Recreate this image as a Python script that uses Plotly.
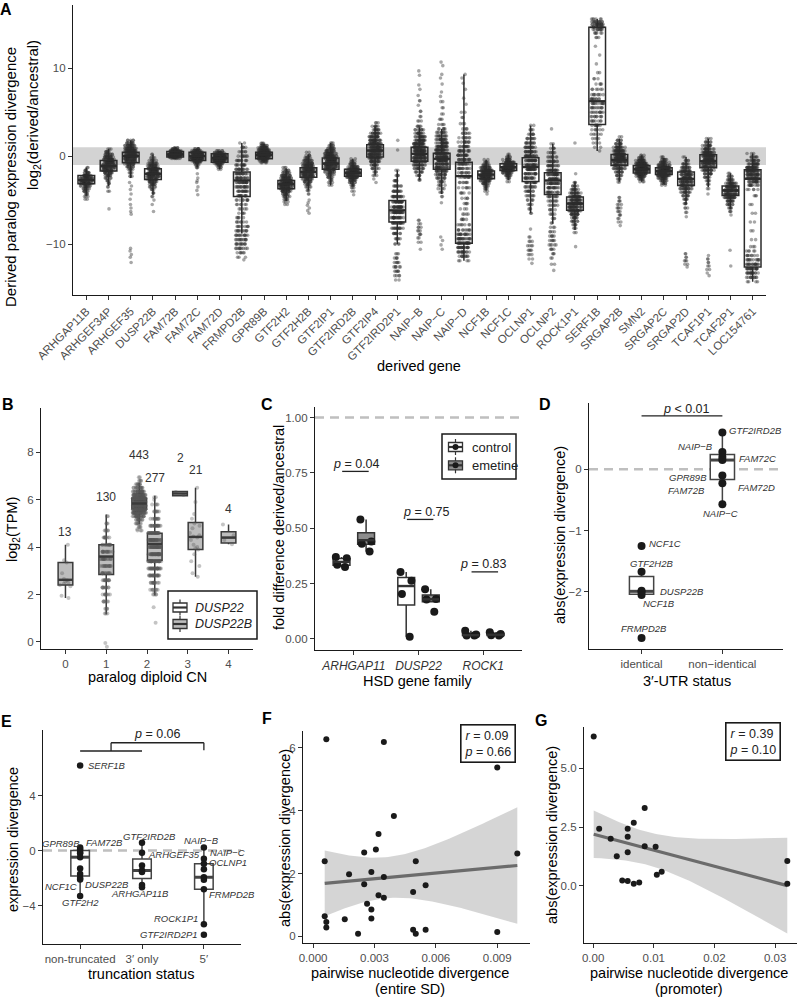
import numpy as np
import plotly.graph_objects as go

W, H = 797, 999
FONT = "Liberation Sans, Arial, Helvetica, sans-serif"
TICK_COLOR = "#4d4d4d"

# ======================= DATA =======================
# ---- Panel A: derived paralog expression divergence ----
a_genes = ["ARHGAP11B", "ARHGEF34P", "ARHGEF35", "DUSP22B", "FAM72B", "FAM72C", "FAM72D",
           "FRMPD2B", "GPR89B", "GTF2H2", "GTF2H2B", "GTF2IP1", "GTF2IRD2B", "GTF2IP4",
           "GTF2IRD2P1", "NAIP−B", "NAIP−C", "NAIP−D", "NCF1B", "NCF1C", "OCLNP1", "OCLNP2",
           "ROCK1P1", "SERF1B", "SRGAP2B", "SMN2", "SRGAP2C", "SRGAP2D", "TCAF1P1", "TCAF2P1",
           "LOC154761"]
a_lo = [-4.5, -3.4, -2.5, -4.4, -0.3, -1.3, -1.5, -8.8, -0.75, -5.1, -3.9, -3.3, -3.4, -2.2,
        -10.0, -2.7, -4.3, -11.9, -3.9, -2.7, -6.5, -7.7, -8.4, 0.6, -2.9, -2.9, -3.2, -5.5,
        -3.5, -6.0, -14.3]
a_q1 = [-3.14, -1.7, -0.76, -2.65, -0.1, -0.5, -0.68, -4.6, -0.3, -3.7, -2.4, -1.5, -2.3, -0.1,
        -7.5, -0.57, -1.5, -9.9, -2.58, -1.63, -2.88, -4.36, -6.17, 3.6, -1.06, -1.93, -2.08,
        -3.33, -1.33, -4.47, -12.6]
a_med = [-2.7, -1.14, 0.0, -2.0, 0.2, 0.0, -0.23, -2.76, 0.15, -3.2, -1.8, -0.83, -1.9, 0.64,
         -6.17, 0.27, -0.3, -2.27, -2.1, -1.25, -1.25, -2.77, -5.4, 6.25, -0.42, -1.5, -1.7,
         -2.58, -0.57, -3.9, -2.58]
a_q3 = [-2.2, -0.5, 0.45, -1.44, 0.53, 0.45, 0.27, -1.8, 0.45, -2.77, -1.33, -0.2, -1.5, 1.3,
        -5.04, 1.0, 0.34, -0.68, -1.7, -0.87, -0.19, -1.9, -4.66, 14.66, 0.19, -1.06, -1.33,
        -1.8, 0.15, -3.4, -1.55]
a_hi = [-1.3, 0.8, 1.8, 0.2, 1.0, 0.85, 0.6, 1.5, 1.45, -1.4, 0.2, 1.5, -0.3, 3.4, -1.6, 3.3,
        3.1, 9.3, -0.4, 0.2, 3.5, 1.4, -2.95, 15.6, 2.0, 0.1, -0.2, -0.1, 2.0, -1.95, 0.3]
# per-gene observations as (value, number of samples at that value)
a_points = [
    [(-1.3, 2), (-1.6, 4), (-1.9, 8), (-2.2, 16), (-2.5, 24), (-2.8, 28), (-3.1, 22), (-3.4, 14),
     (-3.7, 9), (-4.0, 6), (-4.3, 4), (-4.6, 3), (-4.9, 2)],
    [(0.8, 3), (0.5, 6), (0.2, 10), (-0.1, 16), (-0.4, 22), (-0.7, 26), (-1.0, 28), (-1.3, 26),
     (-1.6, 20), (-1.9, 14), (-2.2, 9), (-2.5, 6), (-2.8, 4), (-3.1, 3), (-3.5, 2), (-4.0, 2), (-6.0, 1)],
    [(1.8, 5), (1.5, 10), (1.2, 16), (0.9, 22), (0.6, 28), (0.3, 30), (0.0, 30), (-0.3, 26),
     (-0.6, 20), (-0.9, 14), (-1.2, 9), (-1.5, 6), (-1.9, 4), (-2.3, 3), (-3.0, 1), (-3.4, 1),
     (-3.8, 1), (-4.3, 1), (-4.9, 1), (-5.5, 1), (-5.9, 1), (-6.3, 1), (-6.6, 1), (-10.5, 1),
     (-10.8, 1), (-11.2, 1), (-11.5, 1), (-12.1, 1)],
    [(0.2, 2), (-0.2, 4), (-0.5, 7), (-0.8, 12), (-1.1, 18), (-1.4, 24), (-1.7, 28), (-2.0, 28),
     (-2.3, 24), (-2.6, 18), (-2.9, 13), (-3.2, 9), (-3.5, 6), (-3.8, 4), (-4.2, 3), (-4.6, 2),
     (-5.0, 1), (-5.5, 1), (-6.3, 1)],
    [(0.95, 4), (0.8, 10), (0.65, 20), (0.5, 32), (0.35, 40), (0.2, 42), (0.05, 34), (-0.1, 22), (-0.25, 8)],
    [(0.85, 6), (0.65, 14), (0.45, 26), (0.25, 36), (0.05, 40), (-0.15, 36), (-0.35, 28),
     (-0.55, 18), (-0.75, 10), (-1.0, 5), (-1.3, 3), (-2.0, 1), (-2.5, 1), (-2.8, 1), (-3.0, 1),
     (-3.5, 1), (-3.9, 1), (-4.4, 1)],
    [(0.6, 6), (0.4, 14), (0.2, 26), (0.0, 36), (-0.2, 40), (-0.4, 36), (-0.6, 26), (-0.8, 16),
     (-1.0, 8), (-1.25, 4), (-1.5, 2)],
    [(1.5, 2), (1.0, 4), (0.5, 6), (0.0, 8), (-0.5, 10), (-1.0, 12), (-1.5, 14), (-2.0, 16),
     (-2.5, 17), (-3.0, 17), (-3.5, 16), (-4.0, 14), (-4.5, 12), (-5.0, 9), (-5.5, 6), (-6.0, 5),
     (-6.5, 4), (-7.0, 5), (-7.5, 7), (-8.0, 9), (-8.5, 11), (-9.0, 12), (-9.5, 12), (-10.0, 12),
     (-10.5, 10), (-11.0, 6), (-11.5, 3), (-11.8, 1)],
    [(1.45, 4), (1.2, 10), (0.95, 18), (0.7, 28), (0.45, 38), (0.2, 42), (-0.05, 36), (-0.3, 24),
     (-0.55, 12), (-0.75, 4)],
    [(-1.3, 3), (-1.6, 6), (-1.9, 10), (-2.2, 16), (-2.5, 24), (-2.8, 30), (-3.1, 32), (-3.4, 28),
     (-3.7, 22), (-4.0, 16), (-4.3, 11), (-4.6, 7), (-4.9, 5), (-5.2, 3), (-5.5, 2)],
    [(0.45, 2), (0.1, 4), (-0.2, 8), (-0.5, 13), (-0.8, 18), (-1.1, 24), (-1.4, 28), (-1.7, 30),
     (-2.0, 28), (-2.3, 22), (-2.6, 16), (-2.9, 11), (-3.2, 7), (-3.5, 5), (-3.9, 3), (-4.3, 2),
     (-5.0, 1), (-5.3, 1), (-5.6, 1), (-5.9, 1), (-6.2, 1), (-6.5, 1)],
    [(1.5, 3), (1.2, 6), (0.9, 10), (0.6, 16), (0.3, 22), (0.0, 26), (-0.3, 30), (-0.6, 30),
     (-0.9, 30), (-1.2, 26), (-1.5, 20), (-1.8, 14), (-2.1, 9), (-2.4, 6), (-2.7, 4), (-3.0, 3), (-3.3, 2)],
    [(-0.3, 2), (-0.6, 5), (-0.9, 10), (-1.2, 18), (-1.5, 28), (-1.8, 34), (-2.1, 32), (-2.4, 24),
     (-2.7, 14), (-3.0, 8), (-3.3, 5), (-3.6, 3), (-4.0, 2), (-4.4, 1)],
    [(3.8, 3), (3.4, 6), (3.0, 10), (2.6, 15), (2.2, 20), (1.8, 25), (1.4, 29), (1.0, 32), (0.6, 32),
     (0.2, 29), (-0.2, 24), (-0.6, 17), (-1.0, 11), (-1.4, 7), (-1.8, 4), (-2.2, 3), (-2.6, 1), (-3.0, 1)],
    [(1.8, 1), (0.7, 1), (-1.6, 2), (-2.2, 4), (-2.8, 6), (-3.4, 9), (-4.0, 13), (-4.6, 18),
     (-5.2, 22), (-5.8, 24), (-6.4, 24), (-7.0, 22), (-7.6, 18), (-8.2, 13), (-8.8, 9), (-9.4, 6),
     (-10.0, 4), (-11.1, 3), (-11.6, 4), (-12.1, 5), (-12.6, 6), (-13.1, 5), (-13.6, 4), (-14.1, 2)],
    [(9.7, 1), (9.2, 1), (8.1, 1), (7.6, 1), (6.9, 1), (6.3, 2), (5.8, 1), (5.1, 2), (4.5, 2),
     (4.0, 3), (3.4, 5), (3.0, 8), (2.6, 12), (2.2, 17), (1.8, 22), (1.4, 27), (1.0, 30), (0.6, 32),
     (0.2, 32), (-0.2, 28), (-0.6, 23), (-1.0, 17), (-1.4, 12), (-1.8, 8), (-2.2, 5), (-2.7, 3),
     (-7.3, 2), (-7.7, 2), (-8.1, 3), (-8.5, 3), (-8.9, 3), (-9.3, 2), (-9.8, 2), (-10.6, 1)],
    [(10.7, 1), (10.3, 1), (9.3, 1), (8.9, 1), (8.2, 1), (7.3, 1), (6.8, 1), (6.2, 2), (5.5, 2),
     (4.8, 2), (4.2, 3), (3.6, 4), (3.1, 6), (2.7, 9), (2.3, 13), (1.9, 17), (1.5, 21), (1.1, 25),
     (0.7, 28), (0.3, 30), (-0.1, 30), (-0.5, 28), (-0.9, 25), (-1.3, 21), (-1.7, 17), (-2.1, 13),
     (-2.5, 10), (-2.9, 7), (-3.3, 5), (-3.7, 4), (-4.1, 3), (-4.6, 2), (-5.3, 1), (-9.2, 1),
     (-9.6, 1), (-10.1, 1), (-10.6, 1)],
    [(9.3, 1), (8.9, 1), (8.3, 1), (7.6, 1), (6.6, 1), (5.9, 1), (5.0, 2), (4.4, 2), (3.7, 3),
     (3.1, 4), (2.6, 6), (2.1, 8), (1.6, 10), (1.1, 12), (0.6, 14), (0.1, 15), (-0.4, 15), (-0.9, 14),
     (-1.4, 12), (-1.9, 10), (-2.4, 9), (-3.0, 7), (-3.6, 6), (-4.2, 5), (-4.8, 4), (-5.4, 4),
     (-6.0, 3), (-6.6, 4), (-7.2, 5), (-7.8, 7), (-8.4, 10), (-8.9, 14), (-9.4, 18), (-9.9, 20),
     (-10.4, 18), (-10.9, 14), (-11.4, 9), (-11.9, 4)],
    [(-0.4, 2), (-0.7, 5), (-1.0, 10), (-1.3, 18), (-1.6, 28), (-1.9, 34), (-2.2, 34), (-2.5, 28),
     (-2.8, 18), (-3.1, 11), (-3.4, 6), (-3.7, 4), (-4.0, 2), (-4.3, 1)],
    [(0.2, 2), (-0.1, 5), (-0.4, 12), (-0.7, 24), (-1.0, 36), (-1.3, 40), (-1.6, 32), (-1.9, 20),
     (-2.2, 10), (-2.5, 5), (-2.9, 2)],
    [(3.5, 2), (3.0, 4), (2.5, 6), (2.0, 9), (1.5, 12), (1.0, 15), (0.5, 18), (0.0, 20), (-0.5, 21),
     (-1.0, 21), (-1.5, 20), (-2.0, 18), (-2.5, 16), (-3.0, 14), (-3.5, 11), (-4.0, 9), (-4.5, 7),
     (-5.0, 5), (-5.5, 4), (-6.0, 3), (-6.5, 2), (-8.3, 1), (-9.2, 2), (-9.7, 3), (-10.2, 4),
     (-10.7, 4), (-11.2, 3), (-11.7, 2), (-12.2, 1)],
    [(3.1, 1), (1.4, 2), (0.9, 4), (0.4, 6), (-0.1, 9), (-0.6, 12), (-1.1, 15), (-1.6, 18), (-2.1, 20),
     (-2.6, 21), (-3.1, 19), (-3.6, 16), (-4.1, 13), (-4.6, 10), (-5.1, 8), (-5.6, 6), (-6.1, 5),
     (-6.6, 4), (-7.1, 3), (-7.6, 2), (-8.1, 3), (-8.6, 4), (-9.1, 5), (-9.6, 5), (-10.1, 5),
     (-10.6, 4), (-11.1, 3), (-11.6, 2), (-12.3, 2), (-13.0, 1)],
    [(1.5, 1), (-2.0, 1), (-3.0, 3), (-3.4, 6), (-3.8, 10), (-4.2, 16), (-4.6, 22), (-5.0, 28),
     (-5.4, 30), (-5.8, 28), (-6.2, 22), (-6.6, 15), (-7.0, 10), (-7.4, 7), (-7.8, 5), (-8.2, 3),
     (-8.7, 2), (-10.3, 1)],
    [(15.6, 6), (15.3, 12), (15.0, 16), (14.7, 14), (14.4, 10), (14.0, 6), (13.5, 3), (12.5, 1),
     (11.5, 1), (10.5, 1), (9.5, 2), (8.8, 3), (8.2, 4), (7.6, 6), (7.0, 8), (6.5, 10), (6.0, 11),
     (5.5, 11), (5.0, 10), (4.5, 9), (4.0, 8), (3.5, 7), (3.0, 6), (2.5, 5), (2.0, 4), (1.5, 3),
     (1.0, 2), (0.6, 1)],
    [(2.2, 2), (1.8, 5), (1.4, 10), (1.0, 16), (0.6, 24), (0.2, 30), (-0.2, 32), (-0.6, 30), (-1.0, 24),
     (-1.4, 17), (-1.8, 11), (-2.2, 7), (-2.6, 4), (-2.95, 2), (-4.7, 2), (-5.1, 3), (-5.5, 3),
     (-5.9, 4), (-6.3, 3), (-6.7, 3), (-7.1, 2), (-7.5, 2), (-7.9, 1)],
    [(0.1, 3), (-0.2, 8), (-0.5, 16), (-0.8, 26), (-1.1, 34), (-1.4, 38), (-1.7, 34), (-2.0, 26),
     (-2.3, 16), (-2.6, 8), (-2.9, 3)],
    [(-0.1, 3), (-0.4, 7), (-0.7, 13), (-1.0, 22), (-1.3, 32), (-1.6, 38), (-1.9, 36), (-2.2, 28),
     (-2.5, 18), (-2.8, 10), (-3.1, 5), (-3.3, 2)],
    [(-0.1, 2), (-0.5, 5), (-0.9, 9), (-1.3, 14), (-1.7, 20), (-2.1, 25), (-2.5, 28), (-2.9, 26),
     (-3.3, 22), (-3.7, 17), (-4.1, 12), (-4.5, 8), (-4.9, 6), (-5.4, 4), (-5.9, 3), (-6.4, 2),
     (-6.9, 1), (-11.1, 2), (-11.5, 2), (-11.9, 3), (-12.3, 2), (-12.6, 1)],
    [(2.0, 3), (1.6, 7), (1.2, 12), (0.8, 18), (0.4, 25), (0.0, 30), (-0.4, 32), (-0.8, 30), (-1.2, 25),
     (-1.6, 18), (-2.0, 12), (-2.4, 8), (-2.8, 5), (-3.2, 3), (-3.7, 2), (-4.3, 1), (-11.3, 1),
     (-11.7, 2), (-12.1, 2), (-12.5, 2), (-12.9, 2), (-13.3, 1), (-13.6, 1)],
    [(-1.95, 2), (-2.3, 5), (-2.7, 10), (-3.1, 18), (-3.5, 28), (-3.9, 34), (-4.3, 30), (-4.7, 22),
     (-5.1, 14), (-5.5, 8), (-5.9, 5), (-6.3, 3), (-6.7, 1), (-10.7, 1), (-12.5, 1)],
    [(0.3, 3), (-0.1, 8), (-0.5, 14), (-0.9, 20), (-1.3, 26), (-1.7, 28), (-2.1, 27), (-2.5, 22),
     (-2.9, 16), (-3.3, 10), (-3.8, 5), (-4.5, 3), (-5.5, 2), (-6.5, 2), (-7.5, 2), (-8.5, 2),
     (-9.5, 2), (-10.3, 3), (-10.8, 5), (-11.3, 8), (-11.8, 12), (-12.3, 16), (-12.8, 18),
     (-13.3, 16), (-13.8, 10), (-14.3, 4)],
]

# ---- Panel B: log2(TPM) by paralog diploid CN ----
b_cn = [0, 1, 2, 2, 3, 3, 4]
b_gene = ["DUSP22B", "DUSP22B", "DUSP22", "DUSP22B", "DUSP22", "DUSP22B", "DUSP22B"]
b_legend_genes = ["DUSP22", "DUSP22B"]
b_n = ["13", "130", "443", "277", "2", "21", "4"]
b_n_y = [4.65, 6.1, 7.9, 6.93, 7.74, 7.26, 5.62]
b_lo = [1.85, 1.17, 4.97, 1.97, 6.2, 2.75, 4.12]
b_q1 = [2.4, 2.84, 5.62, 3.45, 6.17, 3.9, 4.17]
b_med = [2.62, 3.6, 5.84, 4.14, 6.26, 4.43, 4.4]
b_q3 = [3.35, 4.1, 6.06, 4.58, 6.35, 5.04, 4.65]
b_hi = [4.1, 5.38, 6.7, 6.17, 6.33, 6.5, 4.95]
b_points = [
    [(4.1, 1), (3.45, 1), (3.35, 1), (2.9, 1), (2.65, 1), (2.6, 1), (2.55, 1), (2.5, 1), (2.45, 1),
     (2.4, 1), (2.35, 1), (1.95, 1), (1.85, 1)],
    [(5.3, 2), (5.0, 3), (4.7, 5), (4.4, 8), (4.1, 11), (3.8, 14), (3.5, 16), (3.2, 15), (2.9, 13),
     (2.6, 11), (2.3, 9), (2.0, 8), (1.7, 6), (1.4, 4), (1.2, 3), (-0.05, 1), (-0.2, 1)],
    [(6.95, 2), (6.8, 4), (6.65, 8), (6.5, 14), (6.35, 24), (6.2, 40), (6.05, 58), (5.9, 70),
     (5.75, 72), (5.6, 60), (5.45, 40), (5.3, 24), (5.15, 12), (5.0, 7), (4.85, 4), (4.75, 1), (4.7, 3)],
    [(6.1, 2), (6.0, 1), (5.8, 4), (5.5, 7), (5.2, 11), (4.9, 19), (4.6, 27), (4.3, 32), (4.0, 36),
     (3.7, 36), (3.4, 32), (3.1, 25), (2.8, 19), (2.5, 12), (2.2, 7), (2.1, 1), (2.0, 4), (1.46, 1), (0.81, 1)],
    [(6.33, 1), (6.2, 1)],
    [(6.5, 1), (5.9, 1), (5.4, 1), (5.2, 1), (5.0, 1), (4.9, 1), (4.8, 1), (4.6, 1), (4.5, 1),
     (4.45, 1), (4.4, 1), (4.3, 1), (4.1, 1), (4.0, 1), (3.95, 1), (3.9, 1), (3.7, 1), (3.4, 1),
     (3.2, 1), (2.9, 1), (2.75, 1)],
    [(4.95, 1), (4.5, 1), (4.3, 1), (4.12, 1)],
]

# ---- Panel C: emetine experiment ----
c_family = ["ARHGAP11", "DUSP22", "ROCK1"]
c_treat = ["control", "emetine"]
c_box_family = [0, 0, 1, 1, 2, 2]
c_box_treat = [0, 1, 0, 1, 0, 1]
c_points = [[0.37, 0.365, 0.335, 0.325], [0.54, 0.44, 0.43, 0.395],
            [0.303, 0.263, 0.203, 0.01], [0.224, 0.18, 0.178, 0.123],
            [0.037, 0.02, 0.015, 0.015], [0.03, 0.022, 0.017, 0.015]]
c_lo = [0.325, 0.395, 0.01, 0.168, 0.015, 0.015]
c_q1 = [0.333, 0.428, 0.153, 0.168, 0.015, 0.016]
c_med = [0.348, 0.446, 0.239, 0.179, 0.017, 0.019]
c_q3 = [0.363, 0.48, 0.278, 0.198, 0.024, 0.024]
c_hi = [0.37, 0.54, 0.303, 0.224, 0.037, 0.03]
c_pvals = ["0.04", "0.75", "0.83"]

# ---- Panel D: 3'-UTR status ----
d_groups = ["identical", "non−identical"]
d_ident = [-1.25, -1.67, -1.98, -2.0, -2.05, -2.75]
d_ident_names = ["NCF1C", "GTF2H2B", "DUSP22B", "", "NCF1B", "FRMPD2B"]
d_nonid = [0.6, 0.28, 0.2, 0.15, -0.1, -0.23, -0.57]
d_nonid_names = ["GTF2IRD2B", "NAIP−B", "FAM72C", "FAM72D", "GPR89B", "FAM72B", "NAIP−C"]
d_pval = "< 0.01"

# ---- Panel E: truncation status ----
e_groups = ["non-truncated", "3′ only", "5′"]
e_vals = [[6.2, 0.22, 0.1, -0.1, -0.2, -0.48, -1.3, -1.7, -2.0, -2.1, -3.3],
          [0.58, -0.15, -1.09, -1.45, -1.55, -2.5, -2.67],
          [0.22, -0.6, -0.95, -1.36, -1.94, -2.13, -2.81, -5.36, -6.13]]
e_names = [["SERF1B", "GPR89B", "FAM72B", "", "", "", "", "", "NCF1C", "DUSP22B", "GTF2H2"],
           ["GTF2IRD2B", "ARHGEF35", "", "", "", "", "ARHGAP11B"],
           ["NAIP−B", "NAIP−C", "OCLNP1", "", "", "", "FRMPD2B", "ROCK1P1", "GTF2IRD2P1"]]
e_pval = "0.06"

# ---- Panel F: entire SD divergence ----
f_x = [0.00065, 0.00346, 0.009, 0.00395, 0.0032, 0.00307, 0.0025, 0.00057, 0.00502, 0.00998,
       0.00176, 0.00285, 0.00346, 0.0025, 0.0055, 0.00489, 0.0032, 0.00346, 0.00264, 0.00285,
       0.00057, 0.00065, 0.00155, 0.00285, 0.00065, 0.0022, 0.00489, 0.00502, 0.0055, 0.009]
f_y = [6.28, 6.19, 5.38, 3.83, 3.26, 2.77, 2.67, 2.39, 2.39, 2.64, 1.98, 2.05, 1.89, 1.66, 1.63,
       1.41, 1.31, 1.23, 1.04, 0.86, 0.64, 0.46, 0.55, 0.57, 0.28, 0.085, 0.21, 0.085, 0.21, 0.14]
f_r, f_p = "0.09", "0.66"

# ---- Panel G: promoter divergence ----
g_x = [0.0001, 0.001, 0.0029, 0.0039, 0.0048, 0.0057, 0.0057, 0.0057, 0.0057, 0.0067, 0.0067,
       0.0076, 0.0085, 0.0085, 0.0103, 0.0105, 0.0113, 0.032, 0.032]
g_y = [6.35, 2.43, 2.0, 1.26, 0.23, 2.43, 2.09, 1.43, 0.21, 2.68, 0.09, 0.14, 3.31, 1.68, 1.66,
       0.47, 0.6, 1.05, 0.09]
g_r, g_p = "0.39", "0.10"

# ======================= HELPERS =======================
fig = go.Figure()


def expand(levels):
    out = []
    for v, c in levels:
        out.extend([v] * c)
    return out


def dx(x0, x1):
    return [x0 / W, x1 / W]


def dy(y0, y1):
    return [1 - y1 / H, 1 - y0 / H]


def axis(domain, rng, anchor, **kw):
    d = dict(domain=domain, range=rng, anchor=anchor, showline=True, linecolor="#1a1a1a",
             linewidth=1.3, ticks="outside", ticklen=4, tickwidth=1.1, tickcolor="#333",
             showgrid=False, zeroline=False, fixedrange=True, automargin=False,
             tickfont=dict(size=11.5, color=TICK_COLOR, family=FONT))
    d.update(kw)
    return d


def add_box(xa, ya, pos, lo, q1, med, q3, hi, width, fill, lw=1.3, line="#333"):
    fig.add_trace(go.Box(x=[pos], q1=[q1], median=[med], q3=[q3], lowerfence=[lo],
                         upperfence=[hi], width=width, xaxis=xa, yaxis=ya, boxpoints=False,
                         fillcolor=fill, line=dict(color=line, width=lw), whiskerwidth=0,
                         hoverinfo="skip", showlegend=False))


def add_points(xa, ya, pos, vals, width, jitter, color, opacity, size):
    fig.add_trace(go.Box(x=[pos] * len(vals), y=vals, xaxis=xa, yaxis=ya, boxpoints="all",
                         jitter=jitter, pointpos=0, width=width,
                         fillcolor="rgba(0,0,0,0)", line=dict(width=0, color="rgba(0,0,0,0)"),
                         marker=dict(color=color, opacity=opacity, size=size, line=dict(width=0)),
                         showlegend=False, hoverinfo="skip"))


def add_medians(xa, ya, pos, meds, width, color="#333", lw=2.6):
    xs, ys = [], []
    for p, m in zip(pos, meds):
        xs += [p - width / 2, p + width / 2, None]
        ys += [m, m, None]
    fig.add_trace(go.Scatter(x=xs, y=ys, xaxis=xa, yaxis=ya, mode="lines",
                             line=dict(color=color, width=lw), showlegend=False, hoverinfo="skip"))


def box_stats(vals):
    v = np.asarray(vals, float)
    q1, med, q3 = np.percentile(v, [25, 50, 75])
    iqr = q3 - q1
    lo = v[v >= q1 - 1.5 * iqr].min()
    hi = v[v <= q3 + 1.5 * iqr].max()
    return lo, q1, med, q3, hi


def lm_band(x, y, t):
    x = np.asarray(x, float)
    y = np.asarray(y, float)
    b1, b0 = np.polyfit(x, y, 1)
    xs = np.linspace(x.min(), x.max(), 80)
    yh = b0 + b1 * xs
    res = y - (b0 + b1 * x)
    s = np.sqrt(np.sum(res ** 2) / (len(x) - 2))
    se = s * np.sqrt(1 / len(x) + (xs - x.mean()) ** 2 / np.sum((x - x.mean()) ** 2))
    return xs, yh, yh - t * se, yh + t * se


annotations = []
shapes = []


def ann_px(x, y, text, size=14.5, color="black", **kw):
    d = dict(xref="paper", yref="paper", x=x / W, y=1 - y / H, text=text, showarrow=False,
             font=dict(size=size, color=color, family=FONT), xanchor="center", yanchor="middle")
    d.update(kw)
    annotations.append(d)


def ann_data(xa, ya, x, y, text, size=9.5, color="#333", **kw):
    d = dict(xref=xa, yref=ya, x=x, y=y, text=text, showarrow=False,
             font=dict(size=size, color=color, family=FONT), xanchor="center", yanchor="middle")
    d.update(kw)
    annotations.append(d)


def hline(xa, ya, x0, x1, y, color="#bfbfbf", width=2.5, dash="9px,6px"):
    shapes.append(dict(type="line", xref=xa, yref=ya, x0=x0, x1=x1, y0=y, y1=y,
                       line=dict(color=color, width=width, dash=dash), layer="below"))


def seg(xa, ya, x0, y0, x1, y1, color="#222", width=1.3):
    shapes.append(dict(type="line", xref=xa, yref=ya, x0=x0, x1=x1, y0=y0, y1=y1,
                       line=dict(color=color, width=width), layer="above"))


def px_rect(x0, y0, x1, y1, fill, line="#1a1a1a", lw=1.5):
    shapes.append(dict(type="rect", xref="paper", yref="paper", x0=x0 / W, x1=x1 / W,
                       y0=1 - y1 / H, y1=1 - y0 / H, fillcolor=fill,
                       line=dict(color=line, width=lw), layer="above"))


def px_line(x0, y0, x1, y1, color="#333", lw=1.3):
    shapes.append(dict(type="line", xref="paper", yref="paper", x0=x0 / W, x1=x1 / W,
                       y0=1 - y0 / H, y1=1 - y1 / H, line=dict(color=color, width=lw),
                       layer="above"))


def legend_key(cx, cy, fill, dot=False):
    # boxplot glyph: whisker, box, median
    px_line(cx, cy - 8, cx, cy + 8, "#333", 1.2)
    px_rect(cx - 7, cy - 4.5, cx + 7, cy + 4.5, fill, "#333", 1.3)
    px_line(cx - 7, cy, cx + 7, cy, "#333", 2.2)
    if dot:
        shapes.append(dict(type="circle", xref="paper", yref="paper",
                           x0=(cx - 3) / W, x1=(cx + 3) / W, y0=1 - (cy + 3) / H,
                           y1=1 - (cy - 3) / H, fillcolor="#1a1a1a", line=dict(width=0),
                           layer="above"))


# ======================= PANEL A =======================
a_pos = list(range(len(a_genes)))
for i in a_pos:
    add_points("x", "y", i, expand(a_points[i]), 0.75, 0.75, "#2e2e2e", 0.42, 3.6)
for i in a_pos:
    add_box("x", "y", i, a_lo[i], a_q1[i], a_med[i], a_q3[i], a_hi[i], 0.75,
            "rgba(0,0,0,0)", lw=1.5, line="#2b2b2b")
add_medians("x", "y", a_pos, a_med, 0.75, color="#2b2b2b", lw=2.2)
shapes.append(dict(type="rect", xref="x", yref="y", x0=-0.6, x1=30.6, y0=-1, y1=1,
                   fillcolor="#d3d3d3", line=dict(width=0), layer="below"))

# ======================= PANEL B =======================
b_pos = []
for cn, g in zip(b_cn, b_gene):
    both = b_cn.count(cn) > 1
    off = 0.0 if not both else (-0.19 if g == "DUSP22" else 0.19)
    b_pos.append(cn + off)
b_fill = {"DUSP22": "white", "DUSP22B": "#bdbdbd"}
for i, p in enumerate(b_pos):
    add_box("x2", "y2", p, b_lo[i], b_q1[i], b_med[i], b_q3[i], b_hi[i], 0.36, b_fill[b_gene[i]],
            lw=1.5, line="#3a3a3a")
add_medians("x2", "y2", b_pos, b_med, 0.36, color="#3a3a3a", lw=2.4)
for i, p in enumerate(b_pos):
    add_points("x2", "y2", p, expand(b_points[i]), 0.36, 0.9, "#555555", 0.35, 4)
    ann_data("x2", "y2", p, b_n_y[i], b_n[i], size=12, color="#333")
# legend B
px_rect(168, 591, 257, 639, "white")
for k, g in enumerate(b_legend_genes):
    cy = 607.5 + 16.5 * k
    legend_key(180, cy, b_fill[g])
    ann_px(193, cy, "<i>%s</i>" % g, size=12.5, color="#222", xanchor="left")

# ======================= PANEL C =======================
c_pos = [c_box_family[i] + (-0.19 if c_box_treat[i] == 0 else 0.19) for i in range(6)]
c_fill = ["white", "#8c8c8c"]
for i, p in enumerate(c_pos):
    add_box("x3", "y3", p, c_lo[i], c_q1[i], c_med[i], c_q3[i], c_hi[i], 0.26,
            c_fill[c_box_treat[i]], lw=1.5, line="#333")
add_medians("x3", "y3", c_pos, c_med, 0.26, color="#333", lw=2.4)
for i, p in enumerate(c_pos):
    add_points("x3", "y3", p, c_points[i], 0.26, 0.8, "#1a1a1a", 1.0, 8)
hline("x3", "y3", -0.6, 2.6, 1.0)
c_line_y = [0.757, 0.54, 0.303]
c_text_dx = [0.04, 0.13, 0.0]
for k in range(3):
    seg("x3", "y3", k - 0.18, c_line_y[k], k + 0.23, c_line_y[k])
    ann_data("x3", "y3", k + c_text_dx[k], c_line_y[k] + 0.035,
             "<i>p</i> = %s" % c_pvals[k], size=12.5, color="#222")
# legend C
px_rect(442, 434, 516, 479, "white")
for k, t in enumerate(c_treat):
    cy = 447 + 18.3 * k
    legend_key(455.5, cy, c_fill[k], dot=True)
    ann_px(470, cy, t, size=13, color="#222", xanchor="left")

# ======================= PANEL D =======================
d_sets = [d_ident, d_nonid]
d_nm = [d_ident_names, d_nonid_names]
d_offsets = {"GTF2IRD2B": (5, 2, "left"), "NAIP−B": (-7, 6, "right"), "FAM72C": (15, -2, "left"),
             "FAM72D": (14, -27, "left"), "GPR89B": (-13, -2, "right"), "FAM72B": (-15, -7, "right"),
             "NAIP−C": (-2, -9, "center"), "NCF1C": (5, 2, "left"), "GTF2H2B": (10, 8, "center"),
             "DUSP22B": (16, -1, "left"), "NCF1B": (17, -8, "center"), "FRMPD2B": (2, 9, "center")}
hline("x4", "y4", -0.65, 1.75, 0.0)
d_meds = []
for k, vals in enumerate(d_sets):
    lo, q1, med, q3, hi = box_stats(vals)
    d_meds.append(med)
    add_box("x4", "y4", k, lo, q1, med, q3, hi, 0.3, "white", lw=1.5, line="#444")
add_medians("x4", "y4", [0, 1], d_meds, 0.3, color="#444", lw=3)
for k, vals in enumerate(d_sets):
    fig.add_trace(go.Scatter(x=[k] * len(vals), y=vals, xaxis="x4", yaxis="y4", mode="markers",
                             marker=dict(color="#1a1a1a", size=8), showlegend=False, hoverinfo="skip"))
    for v, n in zip(vals, d_nm[k]):
        if n:
            ox, oy, anc = d_offsets[n]
            ann_data("x4", "y4", k, v, "<i>%s</i>" % n, xshift=ox, yshift=oy, xanchor=anc)
seg("x4", "y4", 0, 0.87, 1, 0.87)
ann_data("x4", "y4", 0.55, 0.99, "<i>p</i> %s" % d_pval, size=12.5, color="#222")

# ======================= PANEL E =======================
e_offsets = {"SERF1B": (6, 0, "left"), "GPR89B": (2, 4, "right"), "FAM72B": (4, 7, "left"),
             "NCF1C": (-1, -8, "right"), "DUSP22B": (3, -5, "left"), "GTF2H2": (0, -7, "center"),
             "GTF2IRD2B": (7, 6, "center"), "ARHGEF35": (4, -2, "left"),
             "ARHGAP11B": (-2, -6, "center"), "NAIP−B": (-2, 7, "center"), "NAIP−C": (4, 6, "left"),
             "OCLNP1": (3, 1, "left"), "FRMPD2B": (3, -5, "left"), "ROCK1P1": (-4, 6, "right"),
             "GTF2IRD2P1": (-4, 0, "right")}
hline("x5", "y5", -0.6, 2.6, 0.0)
e_meds = []
for k, vals in enumerate(e_vals):
    lo, q1, med, q3, hi = box_stats(vals)
    e_meds.append(med)
    add_box("x5", "y5", k, lo, q1, med, q3, hi, 0.3, "white", lw=1.5, line="#444")
add_medians("x5", "y5", [0, 1, 2], e_meds, 0.3, color="#444", lw=3)
for k, vals in enumerate(e_vals):
    fig.add_trace(go.Scatter(x=[k] * len(vals), y=vals, xaxis="x5", yaxis="y5", mode="markers",
                             marker=dict(color="#1a1a1a", size=6.5), showlegend=False, hoverinfo="skip"))
    for v, n in zip(vals, e_names[k]):
        if n:
            ox, oy, anc = e_offsets[n]
            ann_data("x5", "y5", k, v, "<i>%s</i>" % n, xshift=ox, yshift=oy, xanchor=anc)
seg("x5", "y5", 0, 7.25, 1, 7.25)
seg("x5", "y5", 0.5, 7.25, 0.5, 7.85)
seg("x5", "y5", 0.5, 7.85, 2.0, 7.85)
seg("x5", "y5", 2.0, 7.85, 2.0, 7.3)
ann_data("x5", "y5", 1.25, 8.5, "<i>p</i> = %s" % e_pval, size=12.5, color="#222")

# ======================= PANELS F, G =======================
for xa, ya, xs_, ys_, t in [("x6", "y6", f_x, f_y, 2.048), ("x7", "y7", g_x, g_y, 2.110)]:
    xs, yh, ylo, yhi = lm_band(xs_, ys_, t)
    fig.add_trace(go.Scatter(x=np.concatenate([xs, xs[::-1]]), y=np.concatenate([yhi, ylo[::-1]]),
                             xaxis=xa, yaxis=ya, mode="lines", fill="toself",
                             fillcolor="rgba(190,190,190,0.65)", line=dict(width=0),
                             showlegend=False, hoverinfo="skip"))
    fig.add_trace(go.Scatter(x=xs, y=yh, xaxis=xa, yaxis=ya, mode="lines",
                             line=dict(color="#6b6b6b", width=3.2), showlegend=False, hoverinfo="skip"))
    fig.add_trace(go.Scatter(x=xs_, y=ys_, xaxis=xa, yaxis=ya, mode="markers",
                             marker=dict(color="#1a1a1a", size=6), showlegend=False, hoverinfo="skip"))

ann_px(488, 743, "<i>r</i> = %s<br><i>p</i> = %s" % (f_r, f_p), size=12.5, color="#222",
       bordercolor="#1a1a1a", borderwidth=1.6, borderpad=3, bgcolor="white", align="left")
ann_px(753, 741, "<i>r</i> = %s<br><i>p</i> = %s" % (g_r, g_p), size=12.5, color="#222",
       bordercolor="#1a1a1a", borderwidth=1.6, borderpad=3, bgcolor="white", align="left")

# ======================= TITLES / LABELS =======================
for letter, x, y in [("A", 5.5, 9), ("B", 8, 404), ("C", 266.5, 404), ("D", 544.5, 404),
                     ("E", 6, 721), ("F", 267, 718.5), ("G", 540.5, 720.5)]:
    ann_px(x, y, "<b>%s</b>" % letter, size=16)

ann_px(10, 177, "Derived paralog expression divergence", size=15, textangle=-90)
ann_px(34, 115, "log<sub>2</sub>(derived/ancestral)", size=15, textangle=-90)
ann_px(419, 366, "derived gene", size=14.5)
ann_px(13, 530, "log<sub>2</sub>(TPM)", size=14.5, textangle=-90)
ann_px(147, 677, "paralog diploid CN", size=14.5)
ann_px(279, 528, "fold difference derived/ancestral", size=14.5, textangle=-90)
ann_px(418, 681, "HSD gene family", size=14.5)
ann_px(560, 535, "abs(expression divergence)", size=14.5, textangle=-90)
ann_px(687, 681, "3′-UTR status", size=14.5)
ann_px(13, 840, "expression divergence", size=14.5, textangle=-90)
ann_px(141, 974, "truncation status", size=14.5)
ann_px(285, 838, "abs(expression divergence)", size=14.5, textangle=-90)
ann_px(410, 973, "pairwise nucleotide divergence", size=14.5)
ann_px(410, 989, "(entire SD)", size=14.5)
ann_px(552, 835, "abs(expression divergence)", size=14.5, textangle=-90)
ann_px(689, 973, "pairwise nucleotide divergence", size=14.5)
ann_px(689, 989, "(promoter)", size=14.5)

# ======================= LAYOUT =======================
fig.update_layout(
    width=W, height=H, margin=dict(l=0, r=0, t=0, b=0, pad=0), autosize=False,
    paper_bgcolor="white", plot_bgcolor="white", boxmode="overlay", showlegend=False,
    font=dict(family=FONT, color="#222"),
    xaxis=axis(dx(73, 766), [-0.6, 30.6], "y", tickvals=a_pos, ticktext=a_genes, tickangle=-45),
    yaxis=axis(dy(5, 295), [-15.8, 17.2], "x", tickvals=[-10, 0, 10]),
    xaxis2=axis(dx(41, 253), [-0.6, 4.6], "y2", tickvals=[0, 1, 2, 3, 4]),
    yaxis2=axis(dy(408, 649), [-0.3, 9.87], "x2", tickvals=[0, 2, 4, 6, 8]),
    xaxis3=axis(dx(315, 522), [-0.6, 2.6], "y3", tickvals=[0, 1, 2],
                ticktext=["<i>%s</i>" % f for f in c_family],
                tickfont=dict(size=12, color="#333", family=FONT)),
    yaxis3=axis(dy(407, 650), [-0.05, 1.048], "x3", tickvals=[0, 0.25, 0.5, 0.75, 1.0],
                ticktext=["0.00", "0.25", "0.50", "0.75", "1.00"]),
    xaxis4=axis(dx(589, 783), [-0.65, 1.75], "y4", tickvals=[0, 1], ticktext=d_groups),
    yaxis4=axis(dy(403, 649), [-2.93, 1.08], "x4", tickvals=[-2, -1, 0]),
    xaxis5=axis(dx(43, 241), [-0.6, 2.6], "y5", tickvals=[0, 1, 2], ticktext=e_groups),
    yaxis5=axis(dy(730, 944), [-6.8, 8.78], "x5", tickvals=[-4, 0, 4]),
    xaxis6=axis(dx(303, 530), [-0.00049, 0.0106], "y6", tickvals=[0, 0.003, 0.006, 0.009],
                ticktext=["0.000", "0.003", "0.006", "0.009"]),
    yaxis6=axis(dy(731, 943), [-0.21, 6.54], "x6", tickvals=[0, 2, 4, 6]),
    xaxis7=axis(dx(584, 797), [-0.0015, 0.0336], "y7", tickvals=[0, 0.01, 0.02, 0.03],
                ticktext=["0.00", "0.01", "0.02", "0.03"]),
    yaxis7=axis(dy(727, 943), [-2.43, 6.75], "x7", tickvals=[0, 2.5, 5],
                ticktext=["0.0", "2.5", "5.0"]),
    annotations=annotations,
    shapes=shapes,
)

fig.write_html("out.html", config={"displayModeBar": False},
               post_script="document.body.style.margin='0';")
